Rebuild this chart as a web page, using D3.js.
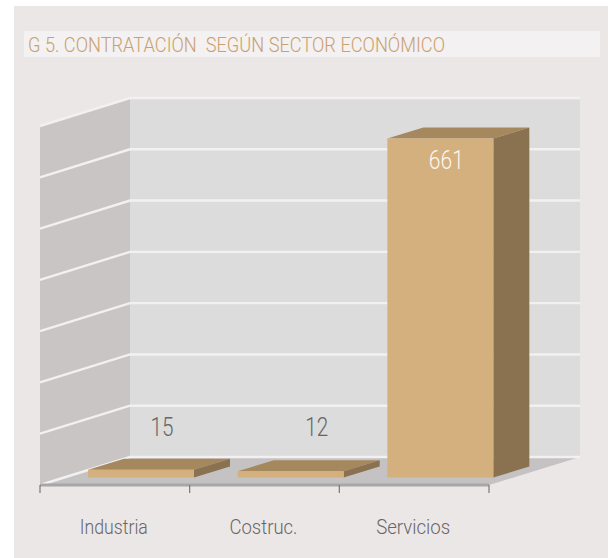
<!DOCTYPE html>
<html>
<head>
<meta charset="utf-8">
<script src="https://cdn.jsdelivr.net/npm/d3@7"></script>
<style>
  body { margin: 0; background: #fff; }
  text { font-family: Roboto, sans-serif; font-weight: 300; }
</style>
</head>
<body>
<div id="chart"></div>
<script>
'use strict';

var title = "G 5. CONTRATACIÓN  SEGÚN SECTOR ECONÓMICO";
var categories = ["Industria", "Costruc.", "Servicios"];
var values = [15, 12, 661];
var gridValues = [0, 100, 200, 300, 400, 500, 600, 700];

var svg = d3.select("#chart").append("svg")
    .attr("width", 608)
    .attr("height", 558)
    .style("display", "block");

// panel de fondo y banda del titulo
svg.append("rect").attr("x", 14).attr("y", 6).attr("width", 594).attr("height", 552).attr("fill", "#ece7e7");
svg.append("rect").attr("x", 24).attr("y", 31).attr("width", 576).attr("height", 26).attr("fill", "#f3f1f1");
svg.append("text")
    .attr("x", 28).attr("y", 52)
    .attr("font-size", 21)
    .attr("textLength", 417)
    .attr("lengthAdjust", "spacingAndGlyphs")
    .attr("fill", "#c9a06f")
    .style("white-space", "pre")
    .text(title);

// escalas: coordenadas del plano frontal
var x = d3.scaleBand().domain(categories).range([40, 489]);
var y = d3.scaleLinear().domain([0, 700]).range([457, 98]);

// profundidad de la caja y de las barras
var depthX = 90, depthY = 28;
var barDepthX = 36, barDepthY = 11;
var barInset = 48, barWidth = 106, barDrop = 20.5;

function pts(list) {
    return list.map(function (p) { return p.join(","); }).join(" ");
}

var x0 = x.range()[0], x1 = x.range()[1];
var floorFront = y(0) + depthY;
var backLeft = x0 + depthX, backRight = x1 + depthX + 1;

// paredes y suelo
svg.append("rect")
    .attr("x", backLeft).attr("y", y(700))
    .attr("width", backRight - backLeft).attr("height", y(0) - y(700))
    .attr("fill", "#dcdcdc");
svg.append("polygon")
    .attr("points", pts([[x0, y(700) + depthY], [backLeft, y(700)], [backLeft, y(0)], [x0, floorFront]]))
    .attr("fill", "#c8c5c4");
svg.append("polygon")
    .attr("points", pts([[x0, floorFront], [backLeft, y(0)], [backRight, y(0)], [x1, floorFront]]))
    .attr("fill", "#c4c2c3");

// lineas de la rejilla
var grid = svg.append("g").attr("fill", "none").attr("stroke", "#f2f0f0").attr("stroke-width", 2.4);
grid.selectAll("polyline")
    .data(gridValues)
    .enter().append("polyline")
    .attr("points", function (d) {
        return pts([[x0, y(d) + depthY], [backLeft, y(d)], [backRight, y(d)]]);
    });

// eje inferior
svg.append("line")
    .attr("x1", x0).attr("x2", x1)
    .attr("y1", floorFront).attr("y2", floorFront)
    .attr("stroke", "#a8a6a6").attr("stroke-width", 3);
var tickPos = categories.map(function (c) { return x(c); }).concat([x1]);
svg.append("g").selectAll("line")
    .data(tickPos)
    .enter().append("line")
    .attr("x1", function (d) { return d; })
    .attr("x2", function (d) { return d; })
    .attr("y1", floorFront)
    .attr("y2", floorFront + 8)
    .attr("stroke", "#777")
    .attr("stroke-width", 1.2);

// barras 3D
var bars = svg.append("g").selectAll("g")
    .data(values)
    .enter().append("g");

function barLeft(i) { return x(categories[i]) + barInset; }
function barTop(d) { return y(d) + barDrop; }
var barBottom = y(0) + barDrop;

bars.append("polygon")
    .attr("fill", "#a6885f")
    .attr("points", function (d, i) {
        return pts([[barLeft(i), barTop(d)], [barLeft(i) + barDepthX, barTop(d) - barDepthY],
            [barLeft(i) + barWidth + barDepthX, barTop(d) - barDepthY], [barLeft(i) + barWidth, barTop(d)]]);
    });
bars.append("polygon")
    .attr("fill", "#8a7250")
    .attr("points", function (d, i) {
        return pts([[barLeft(i) + barWidth, barTop(d)], [barLeft(i) + barWidth + barDepthX, barTop(d) - barDepthY],
            [barLeft(i) + barWidth + barDepthX, barBottom - barDepthY], [barLeft(i) + barWidth, barBottom]]);
    });
bars.append("rect")
    .attr("fill", "#d5b07f")
    .attr("x", function (d, i) { return barLeft(i); })
    .attr("y", function (d) { return barTop(d); })
    .attr("width", barWidth)
    .attr("height", function (d) { return barBottom - barTop(d); });

// etiquetas de valor
bars.append("text")
    .attr("x", function (d, i) { return barLeft(i) + barWidth / 2 + [21, 26, 6][i]; })
    .attr("y", function (d) { return d > 100 ? barTop(d) + 30 : 436; })
    .attr("text-anchor", "middle")
    .attr("font-size", 25)
    .attr("textLength", function (d) { return d > 100 ? 35 : 23; })
    .attr("lengthAdjust", "spacingAndGlyphs")
    .attr("fill", function (d) { return d > 100 ? "#fbf6ef" : "#666"; })
    .text(function (d) { return d; });

// etiquetas de categoria
svg.append("g").selectAll("text")
    .data(categories)
    .enter().append("text")
    .attr("x", function (d) { return x(d) + x.bandwidth() / 2 - 1; })
    .attr("y", 534)
    .attr("text-anchor", "middle")
    .attr("font-size", 21)
    .attr("textLength", function (d, i) { return [68, 68, 74][i]; })
    .attr("lengthAdjust", "spacingAndGlyphs")
    .attr("fill", "#666")
    .text(function (d) { return d; });
</script>
</body>
</html>
